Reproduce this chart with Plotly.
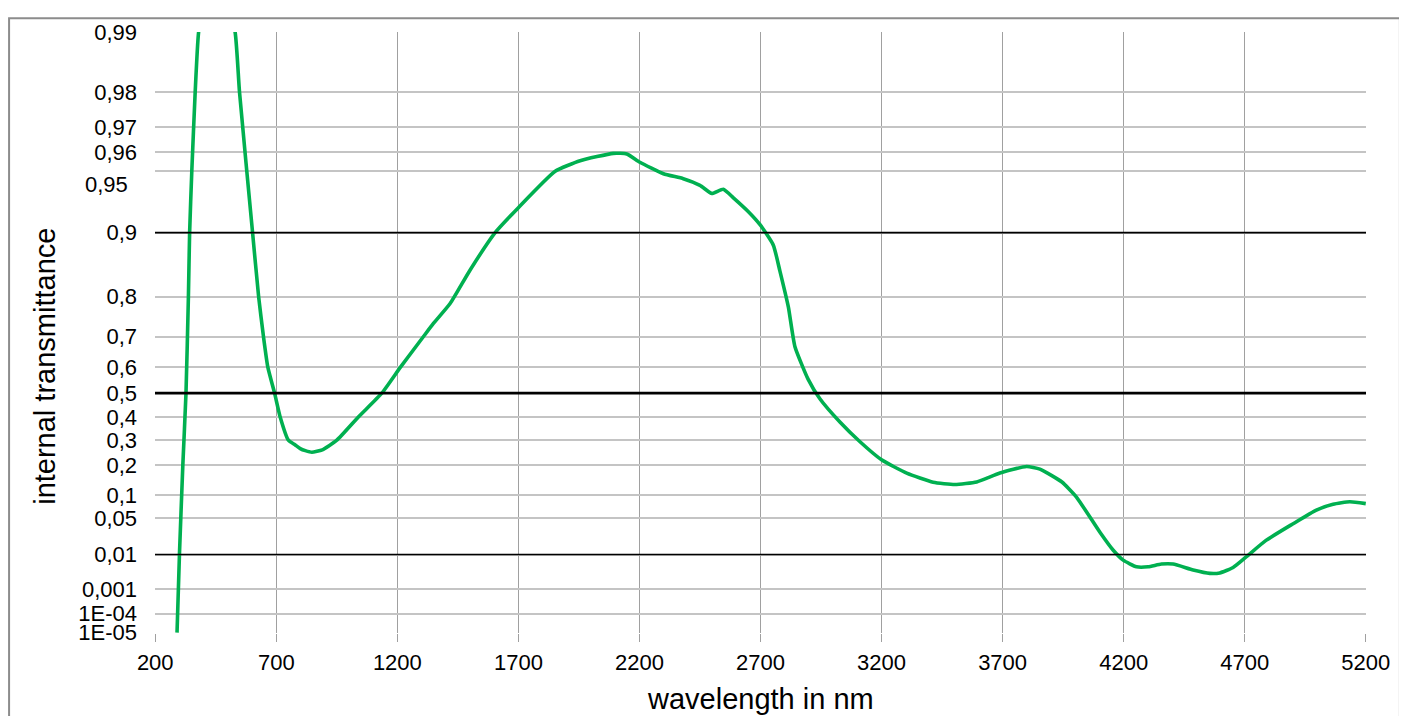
import numpy as np
import plotly.graph_objects as go

# ---- data (wavelength in nm, internal transmittance) ----
wavelength = [290, 300, 314, 327, 337, 342, 351, 365, 379, 420, 470, 530, 548, 602,
              627, 647, 665, 693, 716, 750, 778, 799, 820, 847, 890, 950, 1039, 1136, 1213,
              1308, 1349, 1418, 1500, 1604, 1700, 1852, 1955, 2092, 2148, 2202, 2299, 2381,
              2450, 2499, 2546, 2588, 2650, 2698, 2753, 2780, 2815, 2842, 2897, 2946, 3028,
              3111, 3200, 3304, 3413, 3503, 3593, 3689, 3799, 3854, 3945, 4005, 4102, 4157,
              4198, 4253, 4301, 4356, 4404, 4487, 4556, 4597, 4652, 4706, 4788, 4898, 4996,
              5065, 5134, 5200]
transmittance = [1e-5, 0.01, 0.2, 0.5, 0.8, 0.9, 0.95, 0.98, 0.99, 0.995, 0.995, 0.99, 0.98,
                 0.9, 0.8, 0.7, 0.6, 0.5, 0.4, 0.3, 0.28, 0.265, 0.2565, 0.25, 0.26, 0.3,
                 0.4, 0.5, 0.6, 0.7, 0.7365, 0.785, 0.849, 0.9, 0.9244, 0.95, 0.9557, 0.9593,
                 0.959, 0.9549, 0.9486, 0.9456, 0.9413, 0.9356, 0.9386, 0.9324, 0.9209, 0.9085,
                 0.8851, 0.8479, 0.7773, 0.670, 0.5546, 0.4759, 0.3781, 0.2934, 0.2197, 0.1702,
                 0.1393, 0.1320, 0.1402, 0.1702, 0.1943, 0.1845, 0.140, 0.0958, 0.0288, 0.0125,
                 0.0073, 0.0049, 0.0049, 0.0058, 0.0058, 0.0040, 0.0032, 0.0033, 0.0047, 0.0088,
                 0.0202, 0.0400, 0.0649, 0.0778, 0.0839, 0.0793]

y_tick_values = [1e-5, 1e-4, 0.001, 0.01, 0.05, 0.1, 0.2, 0.3, 0.4, 0.5, 0.6, 0.7, 0.8,
                 0.9, 0.95, 0.96, 0.97, 0.98, 0.99]
y_tick_labels = ["1E-05", "1E-04", "0,001", "0,01", "0,05", "0,1", "0,2", "0,3", "0,4",
                 "0,5", "0,6", "0,7", "0,8", "0,9", "0,95", "0,96", "0,97", "0,98", "0,99"]
x_tick_values = [200, 700, 1200, 1700, 2200, 2700, 3200, 3700, 4200, 4700, 5200]
highlight_levels = [0.9, 0.5, 0.01]
highlight_widths = [1.6, 2.6, 1.6]


def scale(t):
    t = np.asarray(t, dtype=float)
    return -np.log10(-np.log10(t))


FONT = "Liberation Sans, Arial, sans-serif"
TICK_SIZE = 22
TITLE_SIZE = 29

fig = go.Figure()
fig.add_trace(go.Scatter(
    x=wavelength, y=scale(transmittance), mode="lines",
    line=dict(color="#00B050", width=3.6, shape="spline", smoothing=0.5),
    hoverinfo="x+text", text=[str(t) for t in transmittance], showlegend=False,
))

# black reference lines
for lvl, w in zip(highlight_levels, highlight_widths):
    fig.add_shape(type="line", xref="paper", x0=0, x1=1, yref="y",
                  y0=float(scale(lvl)), y1=float(scale(lvl)),
                  line=dict(color="black", width=w), layer="above")

# outer chart border
fig.add_shape(type="rect", xref="paper", yref="paper",
              x0=-0.1205, x1=1.028, y0=-0.2, y1=1.023,
              line=dict(color="#8C8C8C", width=2), fillcolor="rgba(0,0,0,0)", layer="below")

labels_axis = [("" if l == "0,95" else l) for l in y_tick_labels]
ymin, ymax = float(scale(1e-5)), float(scale(0.99))

# the page body adds an 8px offset, so the figure is 8px smaller and margins compensate
fig.update_layout(
    width=1399, height=708,
    margin=dict(l=147, r=41, t=17, b=83),
    paper_bgcolor="white", plot_bgcolor="white",
    font=dict(family=FONT, color="black", size=TICK_SIZE),
    xaxis=dict(range=[199, 5201], tickvals=x_tick_values,
               ticktext=[str(v) for v in x_tick_values],
               showgrid=True, gridcolor="#A0A0A0", gridwidth=1.3,
               ticks="outside", ticklen=8, tickcolor="#A0A0A0", tickwidth=1.3,
               zeroline=False, showline=False, ticklabelstandoff=2,
               tickfont=dict(size=TICK_SIZE, family=FONT)),
    yaxis=dict(range=[ymin - 0.002, ymax + 0.002], tickvals=scale(y_tick_values).tolist(),
               ticktext=labels_axis, showgrid=True, gridcolor="#C4C4C4", gridwidth=1.5,
               ticks="", zeroline=False, showline=False, ticklabelstandoff=17,
               tickfont=dict(size=TICK_SIZE, family=FONT)),
)

# the "0,95" label is offset downward in the reference to avoid overlapping
fig.add_annotation(text="0,95", xref="paper", x=-0.0206, xanchor="right",
                   yref="y", y=float(scale(0.95)), yshift=-13, showarrow=False,
                   font=dict(size=TICK_SIZE, family=FONT, color="black"))

# axis titles
fig.add_annotation(text="wavelength in nm", xref="paper", yref="paper",
                   x=0.5, y=-0.109, xanchor="center", yanchor="middle",
                   showarrow=False, font=dict(size=TITLE_SIZE, family=FONT, color="black"))
fig.add_annotation(text="internal transmittance", xref="paper", yref="paper",
                   x=-0.0908, y=0.443, xanchor="center", yanchor="middle", textangle=-90,
                   showarrow=False, font=dict(size=TITLE_SIZE, family=FONT, color="black"))

fig.write_html("out.html")
